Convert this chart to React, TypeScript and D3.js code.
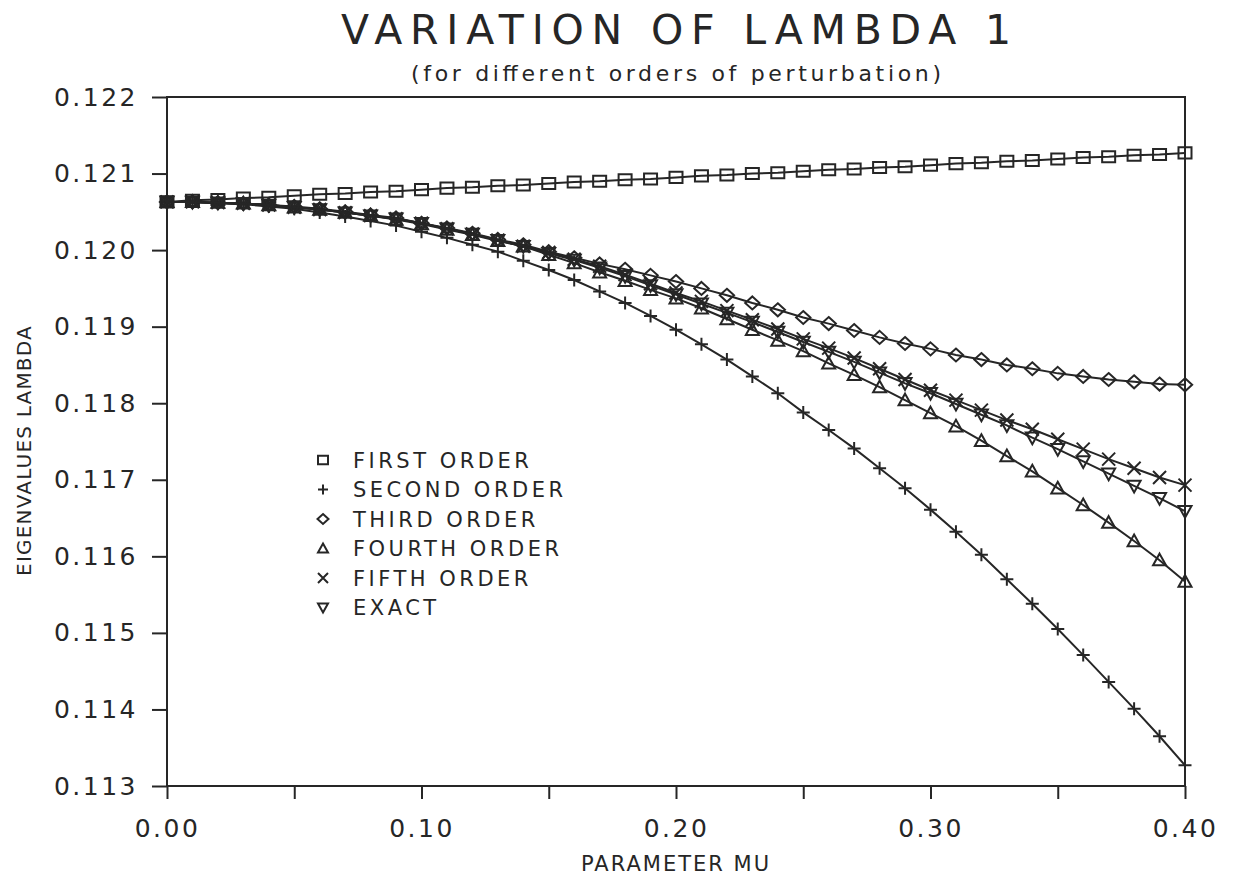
import { useEffect, useRef } from "react";
import * as d3 from "d3";

// parameter mu (x axis)
const MU = [
  0.0, 0.01, 0.02, 0.03, 0.04, 0.05, 0.06, 0.07, 0.08, 0.09, 0.1, 0.11, 0.12, 0.13,
  0.14, 0.15, 0.16, 0.17, 0.18, 0.19, 0.2, 0.21, 0.22, 0.23, 0.24, 0.25, 0.26, 0.27,
  0.28, 0.29, 0.3, 0.31, 0.32, 0.33, 0.34, 0.35, 0.36, 0.37, 0.38, 0.39, 0.4,
];

const FIRST = [
  0.12063, 0.12065, 0.12066, 0.12068, 0.12069, 0.12071, 0.12073, 0.12074, 0.12076, 0.12077,
  0.12079, 0.12081, 0.12082, 0.12084, 0.12085, 0.12087, 0.12089, 0.1209, 0.12092, 0.12093,
  0.12095, 0.12097, 0.12098, 0.121, 0.12101, 0.12103, 0.12105, 0.12106, 0.12108, 0.12109,
  0.12111, 0.12113, 0.12114, 0.12116, 0.12117, 0.12119, 0.12121, 0.12122, 0.12124, 0.12125,
  0.12127,
];

const SECOND = [
  0.12063, 0.12063, 0.12061, 0.1206, 0.12057, 0.12054, 0.12049, 0.12044, 0.12038, 0.12032,
  0.12024, 0.12016, 0.12007, 0.11998, 0.11986, 0.11974, 0.11961, 0.11946, 0.11931, 0.11914,
  0.11896, 0.11877, 0.11857, 0.11835, 0.11813, 0.11788, 0.11765, 0.11741, 0.11715, 0.11689,
  0.11661, 0.11632, 0.11602, 0.1157, 0.11538, 0.11505, 0.11471, 0.11436, 0.11401, 0.11365,
  0.11327,
];

const THIRD = [
  0.12063, 0.12063, 0.12062, 0.12061, 0.12059, 0.12057, 0.12054, 0.1205, 0.12046, 0.12042,
  0.12035, 0.12029, 0.12022, 0.12014, 0.12007, 0.11998, 0.1199, 0.11982, 0.11975, 0.11967,
  0.11959, 0.1195, 0.11941, 0.11931, 0.11922, 0.11912, 0.11904, 0.11895, 0.11886, 0.11878,
  0.11871, 0.11863, 0.11857, 0.1185, 0.11845, 0.11839, 0.11835, 0.11831, 0.11828, 0.11825,
  0.11824,
];

const FOURTH = [
  0.12063, 0.12063, 0.12062, 0.12061, 0.12059, 0.12056, 0.12053, 0.12049, 0.12045, 0.1204,
  0.12034, 0.12027, 0.1202, 0.12012, 0.12005, 0.11994, 0.11983, 0.11971, 0.1196, 0.11948,
  0.11937, 0.11924, 0.1191, 0.11896, 0.11882, 0.11868, 0.11852, 0.11837, 0.11821, 0.11804,
  0.11787, 0.1177, 0.11751, 0.11731, 0.11711, 0.11689, 0.11667, 0.11644, 0.1162, 0.11595,
  0.11567,
];

const FIFTH = [
  0.12063, 0.12063, 0.12062, 0.12061, 0.12059, 0.12056, 0.12053, 0.12049, 0.12045, 0.12041,
  0.12035, 0.12028, 0.12021, 0.12013, 0.12005, 0.11997, 0.11988, 0.11979, 0.11968, 0.11956,
  0.11944, 0.11933, 0.11921, 0.11909, 0.11897, 0.11884, 0.11872, 0.11859, 0.11845, 0.11831,
  0.11817, 0.11804, 0.11791, 0.11778, 0.11766, 0.11753, 0.1174, 0.11727, 0.11715, 0.11703,
  0.11693,
];

const EXACT = [
  0.12063, 0.12063, 0.12062, 0.12061, 0.12059, 0.12056, 0.12053, 0.12049, 0.12045, 0.12041,
  0.12035, 0.12028, 0.12021, 0.12013, 0.12005, 0.11996, 0.11987, 0.11977, 0.11966, 0.11954,
  0.11942, 0.1193, 0.11918, 0.11906, 0.11893, 0.1188, 0.11867, 0.11854, 0.1184, 0.11826,
  0.11813, 0.11799, 0.11785, 0.11771, 0.11755, 0.1174, 0.11724, 0.11708, 0.11692, 0.11676,
  0.11659,
];

const X_TICKS = [0, 0.05, 0.1, 0.15, 0.2, 0.25, 0.3, 0.35, 0.4];
const X_LABELED = [0, 0.1, 0.2, 0.3, 0.4];
const Y_TICKS = [0.113, 0.114, 0.115, 0.116, 0.117, 0.118, 0.119, 0.12, 0.121, 0.122];

const SERIES_NAMES = [
  "FIRST ORDER",
  "SECOND ORDER",
  "THIRD ORDER",
  "FOURTH ORDER",
  "FIFTH ORDER",
  "EXACT",
];

type MarkerKind = "square" | "plus" | "diamond" | "triUp" | "cross" | "triDown";
const MARKERS: MarkerKind[] = ["square", "plus", "diamond", "triUp", "cross", "triDown"];

// path for a marker centred on 0,0, r = half size
function markerPath(kind: MarkerKind, r: number) {
  switch (kind) {
    case "square":
      return `M${-r},${-r * 0.85}H${r}V${r * 0.85}H${-r}Z`;
    case "plus":
      return `M${-r},0H${r}M0,${-r}V${r}`;
    case "diamond":
      return `M0,${-r}L${r * 1.1},0L0,${r}L${-r * 1.1},0Z`;
    case "triUp":
      return `M0,${-r}L${r},${r * 0.8}H${-r}Z`;
    case "cross":
      return `M${-r},${-r}L${r},${r}M${-r},${r}L${r},${-r}`;
    case "triDown":
      return `M0,${r}L${r},${-r * 0.8}H${-r}Z`;
  }
}

const INK = "#262626";
const FONT = "'DejaVu Sans', sans-serif";

export default function App() {
  const svgRef = useRef<SVGSVGElement>(null);
  const width = 1234;
  const height = 881;
  const plot = { left: 167, right: 1185, top: 97, bottom: 786 };

  useEffect(() => {
    if (!svgRef.current) return;
    const svg = d3.select(svgRef.current);
    svg.selectAll("*").remove();

    const x = d3.scaleLinear().domain([0, 0.4]).range([plot.left, plot.right]);
    const y = d3.scaleLinear().domain([0.113, 0.122]).range([plot.bottom, plot.top]);

    // frame
    svg
      .append("rect")
      .attr("x", plot.left)
      .attr("y", plot.top)
      .attr("width", plot.right - plot.left)
      .attr("height", plot.bottom - plot.top)
      .attr("fill", "none")
      .attr("stroke", INK)
      .attr("stroke-width", 2);

    // x axis
    svg
      .append("g")
      .attr("transform", `translate(0,${plot.bottom})`)
      .call(
        d3
          .axisBottom(x)
          .tickValues(X_TICKS)
          .tickSize(13)
          .tickPadding(20)
          .tickFormat((d) =>
            X_LABELED.some((v) => Math.abs(v - +d) < 1e-9) ? d3.format(".2f")(+d) : "",
          ),
      )
      .call((g) => g.select(".domain").remove())
      .call((g) => g.selectAll(".tick line").attr("stroke", INK).attr("stroke-width", 2))
      .call((g) =>
        g
          .selectAll("text")
          .attr("font-size", 25)
          .attr("font-family", FONT)
          .attr("letter-spacing", 2.5)
          .attr("fill", INK),
      );

    // y axis
    svg
      .append("g")
      .attr("transform", `translate(${plot.left},0)`)
      .call(
        d3
          .axisLeft(y)
          .tickValues(Y_TICKS)
          .tickSize(15)
          .tickPadding(14)
          .tickFormat((d) => d3.format(".3f")(+d)),
      )
      .call((g) => g.select(".domain").remove())
      .call((g) => g.selectAll(".tick line").attr("stroke", INK).attr("stroke-width", 2))
      .call((g) =>
        g
          .selectAll("text")
          .attr("font-size", 25)
          .attr("font-family", FONT)
          .attr("letter-spacing", 2.5)
          .attr("fill", INK),
      );

    // series
    const allSeries = [FIRST, SECOND, THIRD, FOURTH, FIFTH, EXACT];
    const line = d3
      .line<number>()
      .x((_, i) => x(MU[i]))
      .y((d) => y(d));

    allSeries.forEach((vals, si) => {
      svg
        .append("path")
        .attr("d", line(vals) ?? "")
        .attr("fill", "none")
        .attr("stroke", INK)
        .attr("stroke-width", 2);

      svg
        .append("g")
        .selectAll("path")
        .data(vals)
        .enter()
        .append("path")
        .attr("transform", (d, i) => `translate(${x(MU[i])},${y(d)})`)
        .attr("d", markerPath(MARKERS[si], 6.5))
        .attr("fill", "none")
        .attr("stroke", INK)
        .attr("stroke-width", 2);
    });

    // legend
    const legend = svg.append("g").attr("transform", "translate(323,460)");
    SERIES_NAMES.forEach((name, i) => {
      const row = legend.append("g").attr("transform", `translate(0,${i * 29.5})`);
      row
        .append("path")
        .attr("d", markerPath(MARKERS[i], 5))
        .attr("fill", "none")
        .attr("stroke", INK)
        .attr("stroke-width", 2);
      row
        .append("text")
        .attr("x", 30)
        .attr("dy", "0.36em")
        .attr("font-size", 21)
        .attr("font-family", FONT)
        .attr("letter-spacing", 3.5)
        .attr("fill", INK)
        .text(name);
    });

    // titles
    const cx = (plot.left + plot.right) / 2;
    svg
      .append("text")
      .attr("x", cx)
      .attr("y", 44)
      .attr("text-anchor", "middle")
      .attr("font-size", 41)
      .attr("font-family", FONT)
      .attr("fill", INK)
      .attr("textLength", 670)
      .attr("lengthAdjust", "spacing")
      .text("VARIATION OF LAMBDA 1");

    svg
      .append("text")
      .attr("x", cx)
      .attr("y", 81)
      .attr("text-anchor", "middle")
      .attr("font-size", 22)
      .attr("font-family", FONT)
      .attr("fill", INK)
      .attr("textLength", 530)
      .attr("lengthAdjust", "spacing")
      .text("(for different orders of perturbation)");

    svg
      .append("text")
      .attr("x", cx)
      .attr("y", 871)
      .attr("text-anchor", "middle")
      .attr("font-size", 21)
      .attr("font-family", FONT)
      .attr("letter-spacing", 2)
      .attr("fill", INK)
      .text("PARAMETER MU");

    svg
      .append("text")
      .attr("transform", `translate(31,${(plot.top + plot.bottom) / 2 + 9}) rotate(-90)`)
      .attr("text-anchor", "middle")
      .attr("font-size", 20)
      .attr("font-family", FONT)
      .attr("letter-spacing", 1.2)
      .attr("fill", INK)
      .text("EIGENVALUES LAMBDA");
  }, []);

  return (
    <svg
      ref={svgRef}
      width={width}
      height={height}
      style={{ position: "absolute", left: 0, top: 0, background: "#fff" }}
    />
  );
}
